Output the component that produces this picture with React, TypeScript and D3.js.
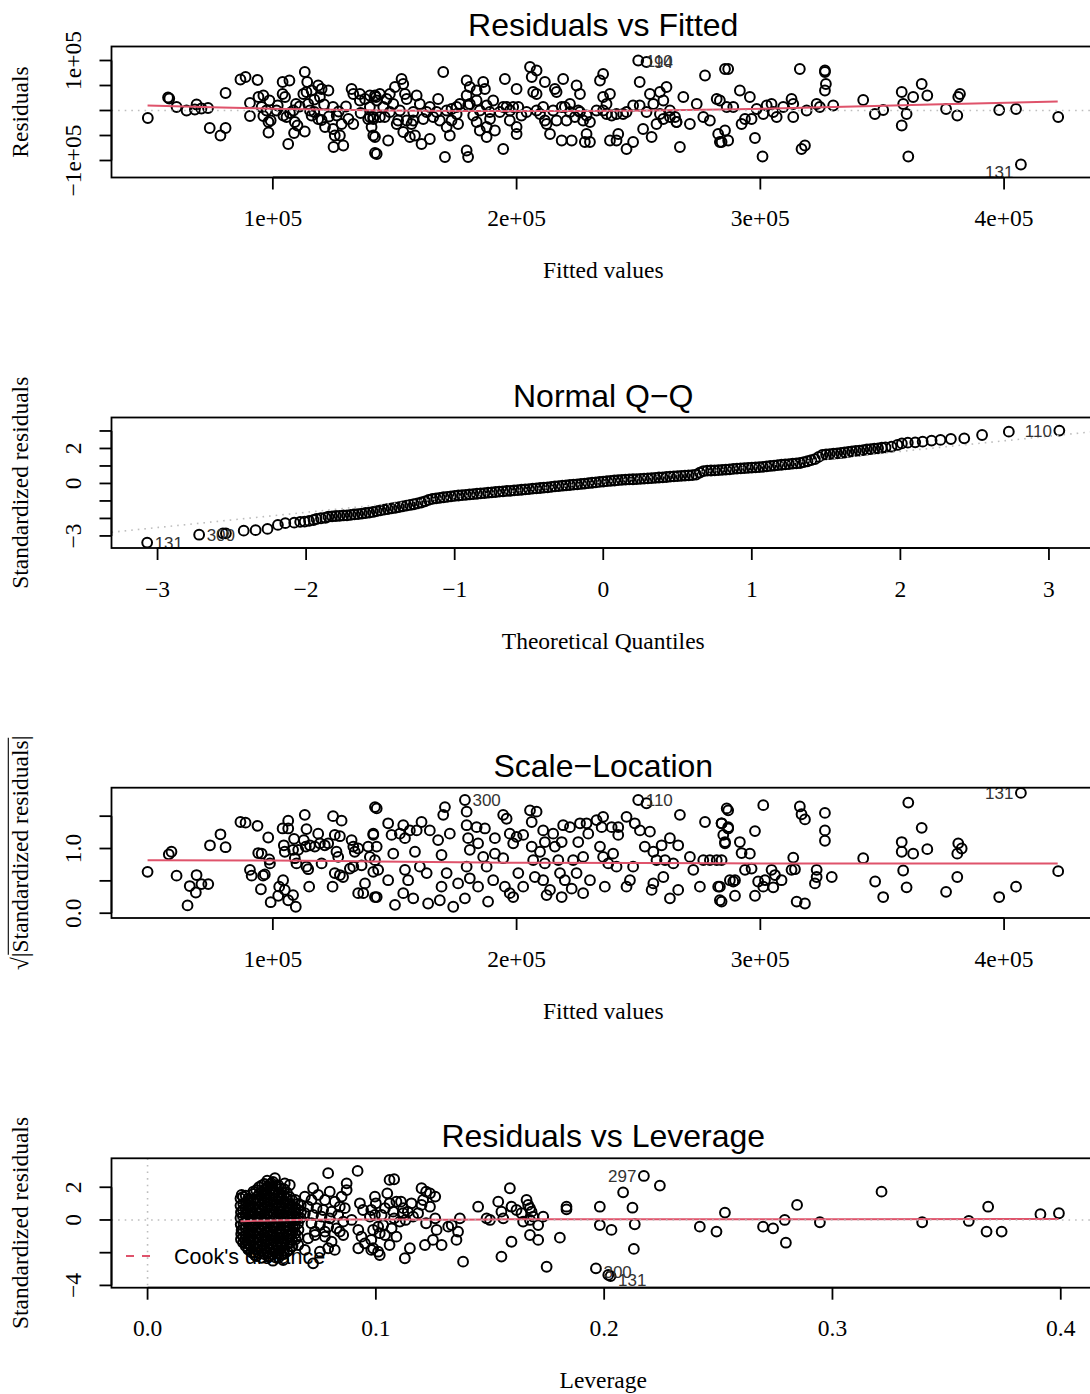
import React from "react";
import * as d3 from "d3";

// ---------- Residuals vs Fitted (fitted, residual) in thousands ----------
const rvfPoints: [number, number][] = [
  [48.7,-15],[57,26],[57.5,24],[60.5,7],[64.6,0],[68,2],[68.7,12],[70.7,4],[73.4,5],[74.1,-35],[78.5,-50],[80.6,-35],[80.6,35],
  [86.7,62],[88.8,67],[93.7,61],[90.6,15],[94.1,27],[96.1,30],[98.6,20],[90.6,-11],[96.1,-11],[98.2,-23],[99.1,-20],[98.2,-44],
  [95.4,7],[97.4,0],[101.5,0],[104,57],[106.8,60],[104,33],[105,27],[104.3,-10],[105.6,-13],[108.4,0],[109.5,13],[106.3,-67],
  [109,-23],[110.1,-30],[108.7,-45],[113.1,-42],[113.1,77],[114.1,57],[112.5,33],[113.8,37],[115.9,40],[114.5,13],[115.2,0],
  [115.9,-10],[118.6,-17],[118.6,50],[120,43],[122.8,40],[119.3,27],[120,-19],[121.4,-33],[124.7,-37],[125.4,-50],[127.5,-50],
  [124.9,-73],[128.9,-70],[124.7,7],[126.2,-10],[128.2,-27],[131,-17],[133,-27],[132.3,43],[133,33],[135.7,33],[135.7,20],
  [137.8,23],[139.8,7],[139.1,-17],[141.2,-17],[140.5,-33],[141.2,-50],[142.3,27],[141.9,-85],
  [102,10],[107,-5],[111,8],[117,-3],[121,12],[127,-2],[130,8],[136,-5],[117,22],[123,-12],
  [141.9,30],[142.6,20],[141.2,-13],[141.9,-53],[142.6,-87],[146.7,23],[148,33],[149.4,13],[150.1,47],[152.8,63],[153.5,53],
  [154.2,33],[154.9,23],[152.1,0],[150.8,-27],[153.5,-43],[156.2,-53],[158.3,-50],[159,30],[157.6,-20],[161,-67],[160.3,13],
  [164.4,7],[164.4,-57],[147.3,-60],[145.9,-13],
  [139.8,30],[139.8,-13],[143.9,33],[143.9,-13],[145.3,7],[148,-3],[151.4,-20],[154.9,-20],[156.9,-27],[157.6,-3],[161.7,-17],
  [163.1,-3],[165.8,-13],[167.2,-3],[171.3,0],[173.3,-20],[175.4,7],[176.7,13],[180.8,13],[182.2,-10],[183.6,20],[187.7,10],
  [189,-3],[193.1,-3],[194.5,7],[197.3,0],[200.7,7],[202,-10],[204.1,-3],[208.2,0],[209.6,-7],[211.6,-20],[215,0],[216.4,-20],
  [219.8,7],[221.9,13],[223.9,-13],[226,-3],[228.7,-10],[230.1,-23],[232.8,0],[235.5,0],[236.9,13],[239,-10],[241,-7],
  [245.1,-3],[247.8,10],[253.3,-3],[258.8,-7],[260.2,-17],[262.9,-13],[265.6,-23],
  [167.8,23],[169.9,77],[168.5,-20],[171.3,-33],[172.6,-50],[170.6,-93],[173.3,3],[175.4,-7],[176,-27],[179.5,60],[179.5,30],
  [180.1,10],[180.8,47],[179.5,-80],[180.1,-93],[183.6,40],[186.3,57],[187,43],[184.9,0],[183.6,-23],[184.9,-40],[187.7,-33],
  [190.4,20],[189.1,-17],[191.1,-40],[187.7,-53],[194.5,-77],[195.2,63],[195.9,7],[197.2,-20],[200,43],[198.6,7],[200,-33],[200,-47],
  [205.5,87],[208.2,80],[206.2,67],[206.8,37],[208.2,33],[211.6,57],[210.9,7],[212.3,-27],[213.7,-47],[215.7,43],[216.4,37],
  [219.1,63],[218.5,7],[220.5,-20],[221.9,-3],[218.5,-60],[222.6,-60],[224.6,50],[226,33],[225.3,0],[227.3,-20],[228.7,-47],
  [228,-63],[230.1,-63],[234.2,60],[235.5,73],[235.5,27],[238.3,33],[236.9,-7],[238.3,-60],[241,-60],[241.7,-47],[245.1,-77],
  [243.7,-7],[247.8,-63],[250.5,57],[250.5,10],[251.9,-37],[254.7,33],[256.1,13],[257.4,-27],[255.4,-53],[258.8,37],[260.2,20],
  [261.5,47],[262.9,0],[265,-13],[265.6,-23],[267,-73],[268.4,27],[271.1,-27],[273.9,13],[276.6,-13],[277.3,70],[279.3,-20],
  [282.1,23],[282.7,-47],[283.4,-63],[285.5,83],[286.2,7],[249.9,100],[253.3,97],
  [286.8,83],[283.4,20],[285.5,-40],[286.8,-60],[284.1,-63],[288.9,7],[291.6,40],[292.3,-27],[293.7,-17],[295.7,27],[296.4,-17],
  [297.8,-55],[298.5,3],[301.2,-7],[300.9,-92],[302.6,10],[304.6,13],[305.3,-3],[306.7,-13],[309.4,7],[312.8,23],[313.5,13],
  [313.5,-13],[316.2,83],[316.9,-77],[318.3,-70],[319,0],[323.1,13],[324.4,7],[326.5,80],[326.5,77],[326.9,53],[326.5,40],
  [329.9,10],[342.2,21],[347,-7],[350.4,1],[358,37],[358.6,13],[358,-30],[360,-7],[360.7,-92],[362.7,27],[366.2,53],[368.5,30],
  [376.2,3],[380.8,-10],[381.2,27],[381.9,33],[398,1],[404.9,3],[422.2,-13],[406.9,-108]
];
const rvfSmooth: [number, number][] = [
  [48.6,10],[75,6.5],[100,3.5],[125,1.5],[145,0],[180,-1],[220,-1],[255,0],[290,2.3],[330,7],[370,11.8],[422,18]
];
const rvfLabels: [number, number, string, string][] = [
  [249.9,100,"110","right"],[253.3,97,"94","right"],[406.9,-108,"131","left"]
];
const fittedTicks = [100, 200, 300, 400];
const fittedTickLabels = ["1e+05", "2e+05", "3e+05", "4e+05"];
const residTicks = [-100, -50, 0, 50, 100];
const residTickLabels = ["\u22121e+05", null, null, null, "1e+05"];

// ---------- Normal Q-Q (theoretical quantile, standardized residual) ----------
const qqPoints: [number, number][] = [
  [-3.07,-3.38],[-2.72,-2.93],[-2.56,-2.85],[-2.54,-2.85],[-2.42,-2.70],[-2.34,-2.67],[-2.26,-2.60],[-2.19,-2.37],[-2.14,-2.27],
  [-2.08,-2.24],[-2.04,-2.20],[-2.01,-2.18],[-1.98,-2.14],[-1.95,-2.09],[-1.93,-2.03],[-1.90,-1.99],[-1.87,-1.96],
  [-1.85,-1.90],[-1.825,-1.88],[-1.80,-1.86],[-1.775,-1.85],[-1.75,-1.83],[-1.725,-1.82],[-1.70,-1.80],[-1.675,-1.77],
  [-1.65,-1.75],[-1.625,-1.72],[-1.60,-1.69],[-1.575,-1.67],[-1.55,-1.63],[-1.525,-1.58],[-1.50,-1.54],[-1.475,-1.50],
  [-1.45,-1.46],[-1.425,-1.42],[-1.40,-1.39],[-1.375,-1.35],[-1.35,-1.31],[-1.325,-1.27],[-1.30,-1.23],[-1.275,-1.19],
  [-1.25,-1.14],[-1.225,-1.09],[-1.20,-1.02],[-1.175,-0.94],[-1.15,-0.88],[-1.125,-0.85],[-1.10,-0.82],[-1.075,-0.79],
  [-1.05,-0.77],[-1.025,-0.74],[-1.00,-0.71],[-0.975,-0.69],[-0.95,-0.67],[-0.925,-0.65],[-0.90,-0.63],[-0.875,-0.61],
  [-0.85,-0.59],[-0.825,-0.57],[-0.80,-0.55],[-0.775,-0.53],[-0.75,-0.51],[-0.725,-0.49],[-0.70,-0.47],[-0.675,-0.45],
  [-0.65,-0.43],[-0.625,-0.42],[-0.60,-0.40],[-0.575,-0.38],[-0.55,-0.36],[-0.525,-0.34],[-0.50,-0.32],[-0.475,-0.30],
  [-0.45,-0.28],[-0.425,-0.26],[-0.40,-0.24],[-0.375,-0.22],[-0.35,-0.20],[-0.325,-0.17],[-0.30,-0.15],[-0.275,-0.13],
  [-0.25,-0.11],[-0.225,-0.09],[-0.20,-0.07],[-0.175,-0.05],[-0.15,-0.03],[-0.125,-0.01],[-0.10,0.02],[-0.075,0.04],
  [-0.05,0.06],[-0.025,0.09],[0,0.11],[0.025,0.13],[0.05,0.15],[0.075,0.17],[0.10,0.19],[0.125,0.21],[0.15,0.22],
  [0.175,0.23],[0.20,0.24],[0.225,0.25],[0.25,0.26],[0.275,0.28],[0.30,0.29],[0.325,0.31],[0.35,0.32],[0.375,0.34],
  [0.40,0.35],[0.425,0.37],[0.45,0.39],[0.475,0.40],[0.50,0.42],[0.525,0.43],[0.55,0.45],[0.575,0.46],[0.60,0.48],
  [0.625,0.51],[0.65,0.62],[0.675,0.71],[0.70,0.73],[0.725,0.74],[0.75,0.75],[0.775,0.76],[0.80,0.78],[0.825,0.79],
  [0.85,0.81],[0.875,0.83],[0.90,0.85],[0.925,0.86],[0.95,0.88],[0.975,0.89],[1.00,0.91],[1.025,0.92],[1.05,0.93],
  [1.075,0.95],[1.10,0.98],[1.125,1.00],[1.15,1.02],[1.175,1.05],[1.20,1.07],[1.225,1.09],[1.25,1.11],[1.275,1.13],
  [1.30,1.15],[1.325,1.17],[1.35,1.22],[1.375,1.27],[1.40,1.33],[1.425,1.39],[1.45,1.52],[1.475,1.63],[1.50,1.66],
  [1.525,1.68],[1.55,1.70],[1.575,1.72],[1.60,1.74],[1.625,1.77],[1.65,1.80],[1.675,1.83],[1.70,1.86],[1.725,1.88],
  [1.75,1.91],[1.775,1.94],[1.80,1.96],[1.825,1.99],[1.85,2.01],[1.875,2.04],
  [1.90,2.06],[1.94,2.10],[1.98,2.20],[2.01,2.29],[2.05,2.33],[2.10,2.35],[2.15,2.39],[2.21,2.45],[2.27,2.49],[2.34,2.54],
  [2.43,2.58],[2.55,2.77],[2.73,2.96],[3.07,3.02]
];
const qqLine: [number, number][] = [[-3.31,-2.79],[3.31,2.97]];
const qqLabels: [number, number, string, string][] = [
  [-3.07,-3.38,"131","right"],[-2.72,-2.93,"300","right"],[3.07,3.02,"110","left"]
];
const quantileTicks = [-3, -2, -1, 0, 1, 2, 3];
const quantileTickLabels = ["\u22123", "\u22122", "\u22121", "0", "1", "2", "3"];
const qqYTicks = [-3, -2, -1, 0, 1, 2, 3];
const qqYTickLabels = ["\u22123", null, null, "0", null, "2", null];

// ---------- Scale-Location (fitted in thousands, sqrt|std resid|) ----------
const slPoints: [number, number][] = [
  [48.6,0.64],[57.3,0.91],[58.4,0.95],[60.5,0.58],[65,0.12],[65.9,0.42],[68.7,0.59],[68.4,0.32],[70.7,0.45],[73.5,0.45],
  [74.2,1.05],[78.5,1.22],[80.6,1.02],[86.7,1.41],[88.8,1.40],[93.7,1.35],[98.1,1.17],[94,0.93],[95.4,0.92],[90.6,0.67],
  [91.3,0.58],[96,0.58],[96.7,0.60],[95.1,0.37],[98.5,0.83],[98.8,0.77],[99.1,0.17],[102.2,0.27],[102.6,0.41],[104.2,0.51],
  [104.9,0.36],[106.3,0.20],[108.3,0.28],[109.4,0.10],[104,1.31],[106.3,1.43],[106.3,1.31],[104.5,1.05],[104.9,0.95],
  [108.7,1.15],[108.3,0.98],[109,0.85],[110.4,0.98],[109.7,0.77],[113.1,1.52],[113.8,1.30],[112.7,1.13],[113.5,1.03],
  [115.2,1.05],[117.2,1.03],[114.5,0.68],[114.9,0.41],[113.8,0.72],[118.6,1.23],[119.3,1.08],[121.3,1.05],[122.7,1.08],
  [120,0.77],[124.5,0.41],[124.7,1.50],[128.2,1.43],[125.4,1.21],[127.5,1.19],[126.1,0.95],[126.8,0.87],[125.4,0.62],
  [127.5,0.59],[128.8,0.56],[132.3,1.13],[133,1.03],[133.6,0.95],[135,1.00],[131.6,0.69],[133,0.72],[136.4,0.74],
  [137.8,0.46],[135,0.31],[137.1,0.31],[139.1,1.03],[139.8,0.87],[141.2,1.21],[141.9,1.64],[141.2,0.64],[142.6,0.25],
  [142.6,1.62],[141.2,1.23],[142.6,1.03],[141.9,0.82],[143.2,0.67],[141.9,0.25],[147.3,1.39],[148.7,1.21],[149.4,0.92],
  [147.3,0.51],[150.1,0.13],[152.1,1.23],[153.5,1.36],[154.2,1.16],[156.2,1.28],[154.2,0.67],[155.5,0.51],[153.5,0.31],
  [159,1.28],[158.3,0.95],[160.3,0.72],[157.6,0.23],[161,1.41],[164.4,1.28],[163.1,0.62],[163.7,0.15],[167.8,1.13],
  [169.2,0.90],[170.6,1.64],[169.9,1.52],[172.6,1.23],[171.3,0.62],[169.2,0.41],[168.5,0.20],[174,0.10],[176,0.46],
  [178.8,1.75],[179.5,1.57],[179.5,1.36],[180.1,1.16],[180.8,0.98],[179.5,0.72],[180.8,0.54],[178.8,0.23],[183.6,1.33],
  [187,1.31],[184.2,1.08],[186.3,0.87],[187.7,0.72],[184.2,0.41],[188.3,0.18],[191.1,1.16],[191.1,0.92],[190.4,0.51],
  [194.5,1.52],[195.9,1.46],[197.2,1.23],[194.5,0.85],[198.6,1.08],[195.2,0.41],[197.2,0.31],[200,1.18],[202.7,1.21],
  [200.7,0.62],[202.7,0.41],[198.6,0.25],[205.5,1.59],[208.2,1.57],[206.2,1.41],[206.2,1.03],[206.8,0.82],[207.5,0.56],
  [210.9,1.28],[211.6,1.10],[209.6,0.95],[211.6,0.77],[210.9,0.51],[213.7,0.36],[212.3,0.28],[215,1.23],[215.7,1.03],
  [217.1,0.82],[218.5,1.10],[217.8,0.62],[218.5,0.25],[219.1,1.36],[221.9,1.33],[219.8,0.51],[222.6,0.38],[226,1.39],
  [225.3,1.10],[223.2,0.82],[224.6,0.62],[228.7,1.39],[229.4,1.23],[227.3,0.87],[230.1,0.51],[227.3,0.31],[232.8,1.44],
  [234.9,1.33],[235.5,1.49],[234.2,1.03],[235.5,0.87],[237.6,0.77],[236.2,0.41],[239,1.33],[241.7,1.33],[241.7,1.21],
  [239.6,0.92],[241,0.72],[245.1,1.49],[246.5,0.51],[248.5,1.39],[250.6,1.28],[247.8,0.72],[245.1,0.41],[249.9,1.75],
  [253.3,1.70],[252.6,1.03],[254.7,1.26],[256.1,0.95],[257.4,0.82],[256.1,0.46],[255.4,0.36],[259.5,1.05],[260.9,0.82],
  [260.2,0.56],[262.9,1.16],[267,1.52],[266.3,1.05],[264.3,0.77],[262.9,0.23],[266.3,0.36],[271.1,0.87],[272.5,0.67],
  [276.6,0.82],[277.3,1.41],[279.3,0.82],[275.2,0.41],[282.1,0.82],[282.7,0.41],[283.4,0.20],[284.1,1.39],[284.8,1.21],
  [286.8,1.31],[286.2,1.62],[285.5,1.08],[287.5,0.51],
  [286.8,1.59],[284.1,1.39],[286.8,1.33],[285.5,1.10],[284.1,0.82],[283.4,0.41],[284.1,0.18],[289.6,0.51],[288.9,0.49],
  [289.6,0.27],[291.6,1.10],[292.3,0.93],[295.7,0.92],[293.7,0.67],[296.4,0.69],[297.8,1.27],[297.8,0.27],[299.1,0.49],
  [301.2,0.41],[301.2,1.67],[301.9,0.51],[304.6,0.67],[306,0.59],[305.3,0.40],[308.7,0.51],[313.5,0.86],[312.8,0.67],
  [314.2,0.68],[314.9,0.18],[318.3,0.15],[316.2,1.65],[316.9,1.53],[318.3,1.45],[323.1,0.67],[323.1,0.56],[322.4,0.46],
  [326.5,1.55],[326.5,1.28],[326.5,1.12],[329.3,0.56],[342.2,0.85],[347.1,0.49],[350.4,0.25],[358,1.10],[358,0.95],
  [358.6,0.66],[360,0.40],[360.7,1.71],[362.7,0.92],[366.2,1.32],[368.5,0.99],[376.2,0.33],[380.8,0.56],[381.2,1.08],
  [382.6,1.00],[380.8,0.92],[398,0.25],[404.9,0.41],[422.2,0.65],[406.9,1.86]
];
const slSmooth: [number, number][] = [
  [48.6,0.82],[100,0.815],[142,0.80],[200,0.78],[250,0.775],[300,0.77],[350,0.77],[422,0.768]
];
const slLabels: [number, number, string, string][] = [
  [178.8,1.75,"300","right"],[249.9,1.75,"110","right"],[406.9,1.86,"131","left"]
];
const slYTicks = [0, 0.5, 1, 1.5];
const slYTickLabels = ["0.0", null, "1.0", null];

// ---------- Residuals vs Leverage (leverage, standardized residual) ----------
const rvlPoints: [number, number][] = [
  [0.0407,1.32],[0.0407,0.88],[0.0409,0.47],[0.0407,0.12],[0.0408,-0.27],[0.0410,-0.86],[0.0409,-1.18],
  [0.0418,1.41],[0.0419,0.98],[0.0417,0.61],[0.0418,0.19],[0.0420,-0.22],[0.0418,-0.59],[0.0419,-1.02],[0.0418,-1.38],
  [0.0430,1.48],[0.0431,1.08],[0.0429,0.71],[0.0430,0.30],[0.0432,-0.12],[0.0430,-0.52],[0.0431,-0.93],[0.0432,-1.42],[0.0430,-1.60],
  [0.0441,1.31],[0.0442,0.89],[0.0440,0.52],[0.0441,0.09],[0.0443,-0.31],[0.0441,-0.69],[0.0440,-1.11],[0.0442,-1.49],[0.0441,-1.81],
  [0.0452,1.22],[0.0453,0.79],[0.0451,0.41],[0.0452,0.02],[0.0454,-0.38],[0.0452,-0.79],[0.0451,-1.21],[0.0453,-1.62],[0.0455,-1.98],
  [0.0464,1.59],[0.0465,1.21],[0.0463,0.79],[0.0464,0.41],[0.0466,-0.02],[0.0464,-0.41],[0.0463,-0.79],[0.0465,-1.21],[0.0464,-1.59],[0.0466,-2.01],
  [0.0476,1.82],[0.0477,1.38],[0.0475,1.01],[0.0476,0.62],[0.0478,0.18],[0.0476,-0.21],[0.0475,-0.62],[0.0477,-1.01],
  [0.0476,-1.41],[0.0478,-1.79],[0.0476,-2.21],
  [0.0488,2.01],[0.0489,1.59],[0.0487,1.21],[0.0488,0.79],[0.0490,0.41],[0.0488,-0.01],[0.0487,-0.41],[0.0489,-0.79],
  [0.0488,-1.21],[0.0490,-1.59],[0.0488,-2.02],
  [0.0501,2.12],[0.0500,1.71],[0.0502,1.28],[0.0501,0.91],[0.0499,0.52],[0.0501,0.08],[0.0502,-0.31],[0.0500,-0.69],
  [0.0501,-1.12],[0.0503,-1.52],[0.0501,-1.89],[0.0500,-2.31],
  [0.0512,2.21],[0.0513,1.88],[0.0511,1.51],[0.0512,1.09],[0.0514,0.71],[0.0512,0.29],[0.0511,-0.11],[0.0513,-0.49],
  [0.0512,-0.91],[0.0514,-1.29],[0.0512,-1.71],[0.0511,-2.09],
  [0.0524,2.41],[0.0525,1.98],[0.0523,1.61],[0.0524,1.19],[0.0526,0.81],[0.0524,0.38],[0.0523,0.01],[0.0525,-0.41],
  [0.0524,-0.79],[0.0526,-1.22],[0.0524,-1.61],[0.0523,-2.02],
  [0.0536,2.19],[0.0537,1.81],[0.0535,1.39],[0.0536,1.01],[0.0538,0.59],[0.0536,0.21],[0.0535,-0.19],[0.0537,-0.61],
  [0.0536,-0.99],[0.0538,-1.41],[0.0536,-1.79],[0.0535,-2.21],
  [0.0549,2.32],[0.0548,1.88],[0.0550,1.51],[0.0549,1.09],[0.0547,0.72],[0.0549,0.29],[0.0551,-0.11],[0.0549,-0.49],
  [0.0548,-0.91],[0.0550,-1.31],[0.0549,-1.69],[0.0547,-2.11],[0.0549,-2.49],
  [0.0561,2.09],[0.0562,1.71],[0.0560,1.29],[0.0561,0.91],[0.0563,0.49],[0.0561,0.11],[0.0560,-0.29],[0.0562,-0.71],
  [0.0561,-1.09],[0.0563,-1.51],[0.0561,-1.91],[0.0560,-2.29],
  [0.0573,2.11],[0.0574,1.69],[0.0572,1.31],[0.0573,0.88],[0.0575,0.51],[0.0573,0.09],[0.0572,-0.31],[0.0574,-0.72],
  [0.0573,-1.09],[0.0571,-1.51],[0.0573,-1.88],[0.0574,-2.29],
  [0.0585,1.91],[0.0586,1.49],[0.0584,1.11],[0.0585,0.69],[0.0587,0.31],[0.0585,-0.09],[0.0584,-0.51],[0.0586,-0.89],
  [0.0585,-1.31],[0.0587,-1.69],[0.0585,-2.11],
  [0.0598,1.89],[0.0597,1.52],[0.0599,1.09],[0.0598,0.71],[0.0596,0.28],[0.0598,-0.12],[0.0600,-0.49],[0.0598,-0.91],
  [0.0597,-1.29],[0.0599,-1.71],[0.0598,-2.08],
  [0.0610,1.69],[0.0611,1.31],[0.0609,0.89],[0.0610,0.51],[0.0612,0.09],[0.0610,-0.31],[0.0609,-0.69],[0.0611,-1.11],
  [0.0610,-1.49],[0.0612,-1.91],
  [0.0622,1.41],[0.0623,0.99],[0.0621,0.62],[0.0622,0.19],[0.0624,-0.21],[0.0622,-0.61],[0.0621,-0.98],[0.0623,-1.41],[0.0622,-1.79],
  [0.0634,1.19],[0.0635,0.81],[0.0633,0.39],[0.0634,0.01],[0.0636,-0.41],[0.0634,-0.79],[0.0633,-1.21],[0.0635,-1.59],
  [0.0647,1.22],[0.0646,0.79],[0.0648,0.41],[0.0647,0.02],[0.0645,-0.39],[0.0647,-0.81],[0.0648,-1.19],
  [0.0659,0.99],[0.0660,0.61],[0.0658,0.19],[0.0659,-0.21],[0.0661,-0.59],[0.0659,-1.01],
  [0.0671,0.91],[0.0672,0.49],[0.0670,0.12],
  [0.0791,2.86],[0.092,3.0],[0.0558,2.55],[0.0543,2.24],[0.0528,2.04],[0.0601,2.24],[0.0623,2.14],[0.0514,1.63],
  [0.0412,1.53],[0.0463,1.73],[0.0725,1.94],[0.0798,1.73],[0.0872,2.24],[0.0872,1.83],[0.085,1.43],[0.093,1.02],
  [0.0894,0],[0.0923,-0.61],[0.0937,-1.02],[0.0952,-1.43],[0.098,-1.22],[0.098,-1.83],[0.0923,-1.73],[0.0974,0.2],
  [0.0944,0.61],[0.1017,-2.14],
  [0.0412,-0.61],[0.0426,-1.22],[0.0441,-1.73],[0.047,-2.14],[0.0528,-2.24],[0.0572,-2.04],[0.0594,-2.45],[0.0631,-1.63],
  [0.066,-1.53],[0.0689,-1.83],[0.0725,-2.65],[0.0755,-1.94],[0.0791,-1.73],[0.0806,-1.33],[0.082,-1.83],[0.0857,-0.92],
  [0.0777,-1.02],[0.0733,-0.92],[0.0703,-1.12],
  [0.0689,1.43],[0.0718,1.22],[0.0747,1.53],[0.0777,1.22],[0.082,1.12],[0.0842,0.81],[0.0703,0.81],[0.074,0.72],
  [0.0769,0.61],[0.0806,0.51],[0.0689,0.41],[0.0725,0.31],[0.0762,0.2],[0.0798,0.1],[0.0835,0.31],[0.0857,-0.1],
  [0.0718,-0.2],[0.0755,-0.31],[0.0791,-0.41],[0.0828,-0.51],[0.0733,-0.71],[0.0777,-0.71],[0.0842,-0.71],[0.0864,0.72],
  [0.106,2.45],[0.108,2.49],[0.105,1.63],[0.0996,1.43],[0.100,1.02],[0.098,0.61],[0.0996,0.31],[0.1025,0.31],[0.104,0.72],
  [0.106,1.02],[0.109,1.12],[0.1076,0.51],[0.111,1.12],[0.112,0.72],[0.114,0.51],[0.1156,1.02],[0.1163,0.20],[0.113,0],
  [0.1105,-0.10],[0.108,0.10],[0.112,0.41],[0.120,1.94],[0.122,1.73],[0.1237,1.63],[0.126,1.43],[0.1207,1.22],[0.120,0.92],
  [0.1237,0.81],[0.1185,0.41],[0.122,-0.20],[0.126,0.10],[0.1266,-0.61],[0.125,-1.22],[0.1215,-1.53],[0.1288,-1.53],
  [0.1317,-0.41],[0.1332,-0.31],[0.1368,0.10],[0.136,-0.71],[0.1353,-1.22],[0.1382,-2.55],[0.1149,-1.73],[0.1127,-2.34],
  [0.109,-1.02],[0.106,-1.53],[0.101,-1.94],[0.0988,-1.73],[0.1017,-0.81],[0.104,-0.92],[0.0988,-0.61],[0.101,-0.41],
  [0.1032,-0.31],[0.1069,-0.51],
  [0.1448,0.81],[0.1485,0.10],[0.150,0],[0.1536,1.12],[0.155,0.51],[0.1558,0.10],[0.1587,1.94],[0.1594,0.81],[0.1616,0.61],
  [0.1638,0.41],[0.166,1.22],[0.1667,0.92],[0.1675,0.72],[0.1682,0.51],[0.1689,0.20],[0.1645,-0.10],[0.1675,0],[0.1711,-0.31],
  [0.1733,0.20],[0.1675,-0.92],[0.1711,-1.22],[0.1594,-1.33],[0.155,-2.24],[0.1748,-2.86],[0.1806,-1.08],[0.1835,0.81],
  [0.1835,0.65],[0.1981,0.81],[0.1981,-0.31],[0.2032,-0.61],[0.2083,1.69],[0.2124,0.75],[0.2134,-0.26],[0.213,-1.77],
  [0.2174,2.69],[0.2244,2.10],[0.1964,-2.96],[0.2018,-3.36],[0.2028,-3.43],[0.2419,-0.41],[0.2492,-0.71],[0.2529,0.45],
  [0.2696,-0.41],[0.274,-0.51],[0.2791,0],[0.2796,-1.39],[0.2845,0.92],[0.2945,-0.14],[0.3215,1.73],[0.3393,-0.14],
  [0.3597,-0.06],[0.3682,0.81],[0.3675,-0.71],[0.3741,-0.71],[0.3911,0.35],[0.3992,0.41]
];
const rvlSmooth: [number, number][] = [
  [0.0407,-0.08],[0.05,-0.04],[0.065,0.0],[0.08,0.03],[0.1,0.03],[0.13,0.02],[0.16,0.04],[0.2,0.05],[0.3,0.05],[0.399,0.06]
];
const rvlLabels: [number, number, string, string][] = [
  [0.2174,2.69,"297","left"],[0.1964,-2.96,"300","right"],[0.2028,-3.43,"131","right"]
];
const leverageTicks = [0, 0.1, 0.2, 0.3, 0.4];
const leverageTickLabels = ["0.0", "0.1", "0.2", "0.3", "0.4"];
const rvlYTicks = [-4, -2, 0, 2];
const rvlYTickLabels = ["\u22124", null, "0", "2"];

// ---------- layout ----------
const W = 1090, H = 1394;
const BOX_L = 111.5, BOX_R = 1095;
const SANS = "'Liberation Sans', Arial, Helvetica, sans-serif";
const SERIF = "'Liberation Serif', 'Times New Roman', serif";
const RED = "#DF536B";
const GRAY = "#BEBEBE";
const AX = 1.8;

type Scale = d3.ScaleLinear<number, number>;

function Points({ data, x, y }: { data: [number, number][]; x: Scale; y: Scale }) {
  return (
    <g fill="none" stroke="#000" strokeWidth={2}>
      {data.map((d, i) => (
        <circle key={i} cx={x(d[0])} cy={y(d[1])} r={4.9} />
      ))}
    </g>
  );
}

function Smooth({ data, x, y }: { data: [number, number][]; x: Scale; y: Scale }) {
  const line = d3.line<[number, number]>().x(d => x(d[0])).y(d => y(d[1])).curve(d3.curveMonotoneX);
  return <path d={line(data) || ""} fill="none" stroke={RED} strokeWidth={2} />;
}

function Labels({ data, x, y, nudge }: { data: [number, number, string, string][]; x: Scale; y: Scale; nudge?: Record<string, number> }) {
  return (
    <g fontFamily={SANS} fontSize={17} fill="#333">
      {data.map((d, i) => {
        const right = d[3] === "right";
        const dy = nudge && nudge[d[2]] ? nudge[d[2]] : 0;
        return (
          <text key={i} x={x(d[0]) + (right ? 7.5 : -7.5)} y={y(d[1]) + 6 + dy} textAnchor={right ? "start" : "end"}>
            {d[2]}
          </text>
        );
      })}
    </g>
  );
}

function Panel(props: {
  id: string; top: number; bottom: number; title: string; x: Scale; y: Scale;
  xTicks: number[]; xLabels: (string | null)[]; yTicks: number[]; yLabels: (string | null)[];
  xTitle: string; yTitle: React.ReactNode; children: React.ReactNode; overlay?: React.ReactNode;
}) {
  const { id, top, bottom, title, x, y, xTicks, xLabels, yTicks, yLabels, xTitle, yTitle, children, overlay } = props;
  const cx = (BOX_L + BOX_R) / 2;
  const cy = (top + bottom) / 2;
  return (
    <g>
      <defs>
        <clipPath id={id}>
          <rect x={BOX_L} y={top} width={BOX_R - BOX_L} height={bottom - top} />
        </clipPath>
      </defs>
      <text x={cx} y={top - 11} textAnchor="middle" fontFamily={SANS} fontSize={32}>{title}</text>
      <g clipPath={`url(#${id})`}>{children}</g>
      {overlay}
      <rect x={BOX_L} y={top} width={BOX_R - BOX_L} height={bottom - top} fill="none" stroke="#000" strokeWidth={AX} />
      <line x1={x(xTicks[0])} x2={x(xTicks[xTicks.length - 1])} y1={bottom} y2={bottom} stroke="#000" strokeWidth={AX} />
      {xTicks.map((t, i) => (
        <g key={"x" + i}>
          <line x1={x(t)} x2={x(t)} y1={bottom} y2={bottom + 12} stroke="#000" strokeWidth={AX} />
          {xLabels[i] && (
            <text x={x(t)} y={bottom + 48.5} textAnchor="middle" fontFamily={SERIF} fontSize={23.5}>{xLabels[i]}</text>
          )}
        </g>
      ))}
      <line x1={BOX_L} x2={BOX_L} y1={y(yTicks[0])} y2={y(yTicks[yTicks.length - 1])} stroke="#000" strokeWidth={AX} />
      {yTicks.map((t, i) => (
        <g key={"y" + i}>
          <line x1={BOX_L} x2={BOX_L - 12} y1={y(t)} y2={y(t)} stroke="#000" strokeWidth={AX} />
          {yLabels[i] && (
            <text transform={`translate(73, ${y(t)}) rotate(-90)`} y={7.5} textAnchor="middle" fontFamily={SERIF} fontSize={23.5}>
              {yLabels[i]}
            </text>
          )}
        </g>
      ))}
      <text x={cx} y={bottom + 100.5} textAnchor="middle" fontFamily={SERIF} fontSize={23.5}>{xTitle}</text>
      <g transform={`translate(20, ${cy}) rotate(-90)`}>{yTitle}</g>
    </g>
  );
}

function YTitle({ text }: { text: string }) {
  return <text x={0} y={8} textAnchor="middle" fontFamily={SERIF} fontSize={23.5}>{text}</text>;
}

export default function App() {
  const p1 = { top: 46.5, bottom: 177.5 };
  const p2 = { top: 417.5, bottom: 548 };
  const p3 = { top: 787.7, bottom: 918 };
  const p4 = { top: 1158.3, bottom: 1287.7 };

  const x1 = d3.scaleLinear().domain([33.8, 437.3]).range([BOX_L, BOX_R]);
  const y1 = d3.scaleLinear().domain([-134, 128]).range([p1.bottom, p1.top]);
  const x2 = d3.scaleLinear().domain([-3.31, 3.31]).range([BOX_L, BOX_R]);
  const y2 = d3.scaleLinear().domain([-3.69, 3.77]).range([p2.bottom, p2.top]);
  const x3 = d3.scaleLinear().domain([33.8, 437.3]).range([BOX_L, BOX_R]);
  const y3 = d3.scaleLinear().domain([-0.074, 1.94]).range([p3.bottom, p3.top]);
  const x4 = d3.scaleLinear().domain([-0.0158, 0.415]).range([BOX_L, BOX_R]);
  const y4 = d3.scaleLinear().domain([-4.14, 3.77]).range([p4.bottom, p4.top]);

  const qqPath = d3.line<[number, number]>().x(d => x2(d[0])).y(d => y2(d[1]))(qqLine) || "";

  return (
    <svg width={W} height={H} viewBox={`0 0 ${W} ${H}`} style={{ position: "absolute", left: 0, top: 0, background: "#fff" }}>
      <rect x={0} y={0} width={W} height={H} fill="#fff" />

      <Panel id="c1" {...p1} title="Residuals vs Fitted" x={x1} y={y1}
        xTicks={fittedTicks} xLabels={fittedTickLabels} yTicks={residTicks} yLabels={residTickLabels}
        xTitle="Fitted values" yTitle={<YTitle text="Residuals" />}
        overlay={<Labels data={rvfLabels} x={x1} y={y1} nudge={{ "131": 7 }} />}>
        <Points data={rvfPoints} x={x1} y={y1} />
        <Smooth data={rvfSmooth} x={x1} y={y1} />
        <line x1={BOX_L} x2={BOX_R} y1={y1(0)} y2={y1(0)} stroke={GRAY} strokeWidth={1.6} strokeDasharray="1.6 5" />
      </Panel>

      <Panel id="c2" {...p2} title={"Normal Q\u2212Q"} x={x2} y={y2}
        xTicks={quantileTicks} xLabels={quantileTickLabels} yTicks={qqYTicks} yLabels={qqYTickLabels}
        xTitle="Theoretical Quantiles" yTitle={<YTitle text="Standardized residuals" />}
        overlay={<Labels data={qqLabels} x={x2} y={y2} />}>
        <Points data={qqPoints} x={x2} y={y2} />
        <path d={qqPath} fill="none" stroke={GRAY} strokeWidth={1.6} strokeDasharray="1.6 5" />
      </Panel>

      <Panel id="c3" {...p3} title={"Scale\u2212Location"} x={x3} y={y3}
        xTicks={fittedTicks} xLabels={fittedTickLabels} yTicks={slYTicks} yLabels={slYTickLabels}
        xTitle="Fitted values"
        yTitle={
          <g>
            <text x={0} y={8} textAnchor="middle" fontFamily={SERIF} fontSize={23.5}>{"\u221A|Standardized residuals|"}</text>
            <line x1={-102} x2={115} y1={-11.7} y2={-11.7} stroke="#000" strokeWidth={1.1} />
          </g>
        }
        overlay={<Labels data={slLabels} x={x3} y={y3} />}>
        <Points data={slPoints} x={x3} y={y3} />
        <Smooth data={slSmooth} x={x3} y={y3} />
      </Panel>

      <Panel id="c4" {...p4} title="Residuals vs Leverage" x={x4} y={y4}
        xTicks={leverageTicks} xLabels={leverageTickLabels} yTicks={rvlYTicks} yLabels={rvlYTickLabels}
        xTitle="Leverage" yTitle={<YTitle text="Standardized residuals" />}
        overlay={<Labels data={rvlLabels} x={x4} y={y4} nudge={{ "300": 4, "131": 4 }} />}>
        <Points data={rvlPoints} x={x4} y={y4} />
        <Smooth data={rvlSmooth} x={x4} y={y4} />
        <line x1={BOX_L} x2={BOX_R} y1={y4(0)} y2={y4(0)} stroke={GRAY} strokeWidth={1.6} strokeDasharray="1.6 5" />
        <line x1={x4(0)} x2={x4(0)} y1={p4.top} y2={p4.bottom} stroke={GRAY} strokeWidth={1.6} strokeDasharray="1.6 5" />
        <line x1={126} x2={150} y1={1256} y2={1256} stroke={RED} strokeWidth={1.8} strokeDasharray="8 8" />
        <text x={174} y={1263.5} fontFamily={SANS} fontSize={21.5}>Cook's distance</text>
      </Panel>
    </svg>
  );
}
